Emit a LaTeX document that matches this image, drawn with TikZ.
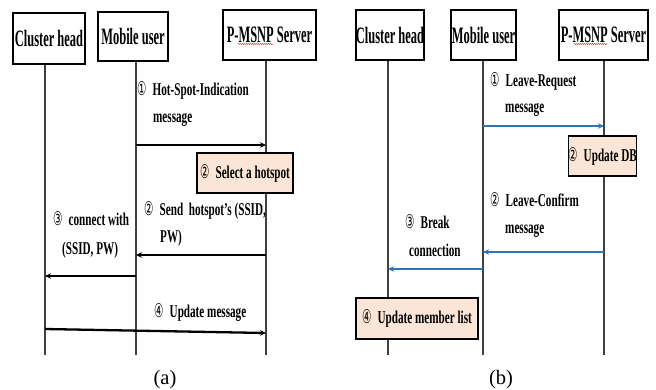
\documentclass[tikz,border=0pt]{standalone}
\usepackage{fontspec}
\setmainfont{Liberation Serif}
\newfontfamily\hdfont[FakeStretch=0.53]{Liberation Serif}
\newfontfamily\msgfont[FakeStretch=0.62]{Liberation Serif}
\newfontfamily\numfont[FakeStretch=0.55]{DejaVu Sans}
\usetikzlibrary{arrows.meta,decorations.pathmorphing}
\definecolor{notefill}{HTML}{FBE5D6}
\definecolor{flow}{HTML}{2E75B6}
\definecolor{life}{HTML}{404040}
\newcommand{\cnum}[1]{\makebox[15.5pt][l]{\numfont\mdseries\fontsize{19}{19}\selectfont #1}}
\tikzset{
  head/.style={draw=black, line width=1.2pt, fill=white, inner sep=0pt,
    font=\hdfont\bfseries\fontsize{23.5}{23.5}\selectfont},
  lifeline/.style={draw=life, line width=1.2pt},
  msg/.style={draw=black, line width=2.3pt, -{Stealth[length=6pt,width=5.5pt]}},
  bmsg/.style={msg, draw=flow},
  notebox/.style={draw=black, line width=1.2pt, fill=notefill, inner sep=0pt,
    font=\msgfont\bfseries\fontsize{18}{18}\selectfont},
  lbl/.style={anchor=base west, inner sep=0pt,
    font=\msgfont\bfseries\fontsize{18}{18}\selectfont},
  caption/.style={anchor=base, inner sep=0pt, font=\fontsize{20.5}{20.5}\selectfont},
  spell/.style={draw=red, line width=0.5pt, decorate,
    decoration={snake, segment length=2pt, amplitude=0.5pt}}
}
\begin{document}
\begin{tikzpicture}[x=1pt,y=-1pt]
\useasboundingbox (0,0) rectangle (656,389);

% ---------------- (a) joining a hotspot ----------------
\coordinate (chAbot) at (45,355);
\coordinate (muAbot) at (136,355);
\coordinate (svAbot) at (266,355);

\node[head, minimum width=72pt, minimum height=51pt] (chA) at (49,38.5) {Cluster head};
\node[head, minimum width=70pt, minimum height=49pt] (muA) at (133,36.5) {Mobile user};
\node[head, minimum width=93pt, minimum height=50pt] (svA) at (269.5,35) {P-MSNP Server};

\draw[lifeline] (chAbot |- chA.south) -- (chAbot);
\draw[lifeline] (muAbot |- muA.south) -- (muAbot);
\draw[lifeline] (svAbot |- svA.south) -- (svAbot);

\coordinate (ya1) at (0,145);
\coordinate (ya2) at (0,255);
\coordinate (ya3) at (0,276);
\coordinate (ya4s) at (0,329);
\coordinate (ya4e) at (0,333);

\draw[msg] (muAbot |- ya1) -- (svAbot |- ya1);
\draw[msg] (svAbot |- ya2) -- (muAbot |- ya2);
\draw[msg] (muAbot |- ya3) -- (chAbot |- ya3);
\draw[msg] (chAbot |- ya4s) -- (svAbot |- ya4e);

\node[notebox, minimum width=96pt, minimum height=40pt] (selA) at (245,173)
  {\cnum{②}Select a hotspot};

\node[lbl] (la1) at (137,95) {\cnum{①}Hot-Spot-Indication};
\node[lbl] (la1b) at (153,122) {message};
\node[lbl] (la2) at (144,215) {\cnum{②}Send\ \ hotspot’s (SSID,};
\node[lbl] (la2b) at (160,242) {PW)};
\node[lbl] (la3) at (53,225) {\cnum{③}connect with};
\node[lbl] (la3b) at (62,254) {(SSID, PW)};
\node[lbl] (la4) at (154,317) {\cnum{④}Update message};

\node[caption] (capA) at (165,384.5) {(a)};

% ---------------- (b) leaving a hotspot ----------------
\coordinate (chBbot) at (388,355);
\coordinate (muBbot) at (483,355);
\coordinate (svBbot) at (604,355);

\node[head, minimum width=66pt, minimum height=50pt] (chB) at (390,35) {Cluster head};
\node[head, minimum width=65pt, minimum height=50pt] (muB) at (483.5,35) {Mobile user};
\node[head, minimum width=89pt, minimum height=50pt] (svB) at (603.5,35) {P-MSNP Server};

\draw[lifeline] (chBbot |- chB.south) -- (chBbot);
\draw[lifeline] (muBbot |- muB.south) -- (muBbot);
\draw[lifeline] (svBbot |- svB.south) -- (svBbot);

\coordinate (yb1) at (0,126);
\coordinate (yb2) at (0,252);
\coordinate (yb3) at (0,269);

\draw[bmsg] (muBbot |- yb1) -- (svBbot |- yb1);
\draw[bmsg] (svBbot |- yb2) -- (muBbot |- yb2);
\draw[bmsg] (muBbot |- yb3) -- (chBbot |- yb3);

\node[notebox, minimum width=67pt, minimum height=40pt] (dbB) at (602.5,156)
  {\cnum{②}Update DB};
\node[notebox, minimum width=122pt, minimum height=41pt] (mlB) at (417,318.5)
  {\cnum{④}Update member list};

\node[lbl] (lb1) at (490,86) {\cnum{①}Leave-Request};
\node[lbl] (lb1b) at (505,112) {message};
\node[lbl] (lb2) at (490,206) {\cnum{②}Leave-Confirm};
\node[lbl] (lb2b) at (505,233) {message};
\node[lbl] (lb3) at (405,228) {\cnum{③}Break};
\node[lbl] (lb3b) at (409,256) {connection};

\node[caption] (capB) at (501,384.5) {(b)};

% spell-checker underline beneath "MSNP"
\draw[spell] (238,44) -- (273,44);
\draw[spell] (574,44) -- (607,44);
\end{tikzpicture}
\end{document}
